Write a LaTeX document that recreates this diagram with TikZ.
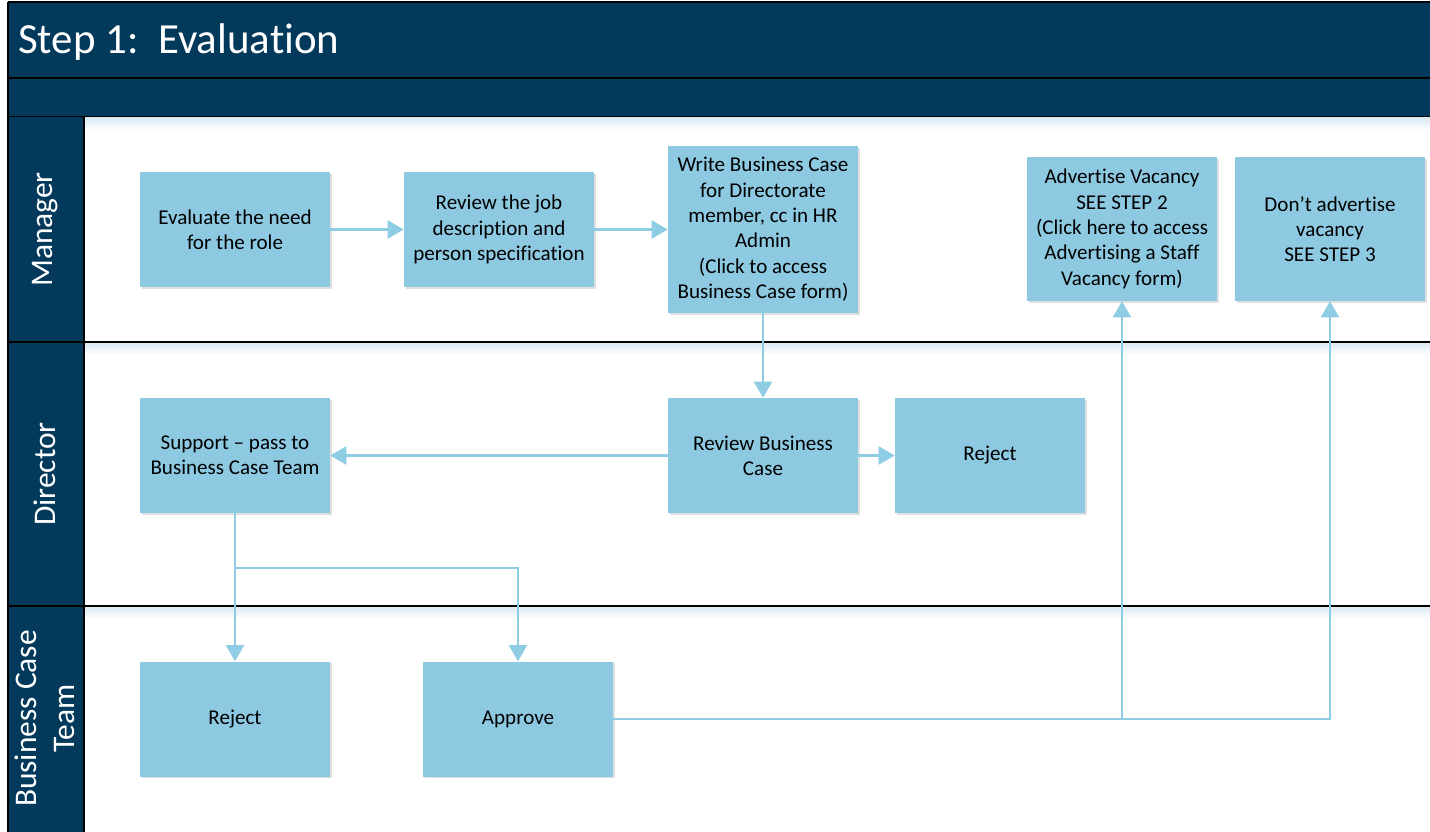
\documentclass[tikz,border=0pt]{standalone}
\usepackage{fontspec}
\setmainfont[Ligatures={NoCommon,NoContextual}]{Carlito}
\usetikzlibrary{arrows.meta,shadows}
\definecolor{hdr}{HTML}{033A5C}
\definecolor{boxc}{HTML}{8DCAE2}
\definecolor{linec}{HTML}{8ECDE4}
\definecolor{shc}{HTML}{DCEAF4}
\tikzset{
  proc/.style={rectangle, fill=boxc, draw=none, minimum width=142.5pt, minimum height=86.25pt,
    align=center, inner sep=2pt, font=\fontsize{15.8}{19}\selectfont,
    drop shadow={shadow xshift=1.2pt, shadow yshift=-1.2pt, opacity=0.25, fill=gray}},
  flow/.style={draw=linec, line width=1.6pt},
  conn/.style={flow, -{Triangle[width=13.5pt,length=12pt]}},
  lanelabel/.style={rotate=90, text=white, align=center, font=\fontsize{23.6}{28.5}\selectfont},
  frame/.style={draw=black, line width=1.5pt}
}
\begin{document}
\begin{tikzpicture}[x=0.75pt,y=-0.75pt]
\useasboundingbox (0,0) rectangle (1430,831);
\fill[white] (0,0) rectangle (1430,831);
% header bands
\fill[hdr] (8,2) rectangle (1445,117);
\draw[frame] (8,2) -- (1445,2);
\draw[frame] (8,78) -- (1445,78);
\draw[frame] (8,117) -- (1445,117);
\node[anchor=base west, text=white, inner sep=0pt, font=\fontsize{32.2}{38}\selectfont] (title) at (18,54) {Step 1:\ \ Evaluation};
% lane shading under separators
\shade[top color=shc, bottom color=white] (84,118) rectangle (1445,130);
\shade[top color=shc, bottom color=white] (84,343) rectangle (1445,355);
\shade[top color=shc, bottom color=white] (84,607) rectangle (1445,619);
% lane label column
\fill[hdr] (8,117) rectangle (84,845);
\draw[frame] (8,2) -- (8,845);
\draw[frame] (84,117) -- (84,845);
\draw[frame] (8,342) -- (1445,342);
\draw[frame] (8,606) -- (1445,606);
\node[lanelabel] (lmgr) at (45,229.5) {Manager};
\node[lanelabel] (ldir) at (45,474) {Director};
\node[lanelabel] (lbct) at (45,718.5) {Business Case\\Team};
% process boxes
\node[proc] (eval) at (235,229.5) {Evaluate the need\\for the role};
\node[proc] (rev) at (499,229.5) {Review the job\\description and\\person specification};
\node[proc, minimum height=125.25pt] (write) at (763,229.5) {Write Business Case\\for Directorate\\member, cc in HR\\Admin\\(Click to access\\Business Case form)};
\node[proc, minimum height=108pt] (adv) at (1122,229) {Advertise Vacancy\\SEE STEP 2\\(Click here to access\\Advertising a Staff\\Vacancy form)};
\node[proc, minimum height=108pt] (dont) at (1330,229) {Don’t advertise\\vacancy\\SEE STEP 3};
\node[proc] (support) at (235,455.5) {Support -- pass to\\Business Case Team};
\node[proc] (rbc) at (763,455.5) {Review Business\\Case};
\node[proc] (rej1) at (990,455.5) {Reject};
\node[proc] (rej2) at (235,719) {Reject};
\node[proc] (approve) at (518,719) {Approve};
% connectors
\draw[conn] (eval) -- (rev);
\draw[conn] (rev) -- (write);
\draw[conn] (write) -- (rbc);
\draw[conn] (rbc) -- (support);
\draw[conn] (rbc) -- (rej1);
\coordinate (split) at (235,568);
\draw[flow] (support) -- (split);
\draw[conn] (split) -- (rej2);
\draw[conn] (split) -| (approve);
\coordinate (join) at (approve.east -| adv);
\draw[flow] (approve) -- (join);
\draw[conn] (join) -- (adv);
\draw[conn] (join) -| (dont);
\end{tikzpicture}
\end{document}
